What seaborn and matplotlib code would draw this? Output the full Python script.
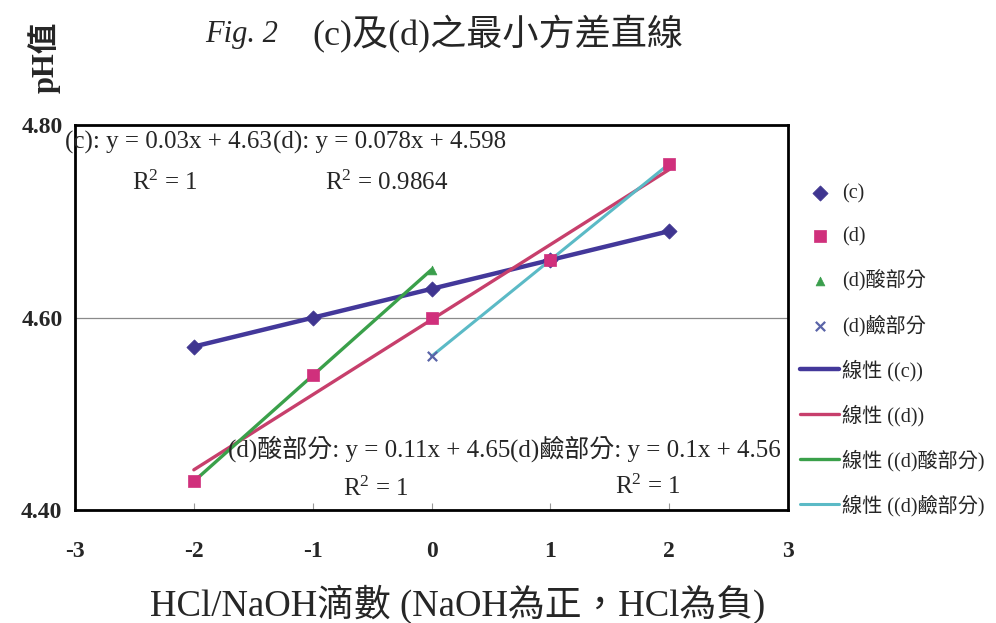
import numpy as np
import pandas as pd
import seaborn as sns
import matplotlib.pyplot as plt
from matplotlib.ticker import FormatStrFormatter

# data
x_c = [-2, -1, 0, 1, 2]
ph_c = [4.57, 4.60, 4.63, 4.66, 4.69]
x_d = [-2, -1, 0, 1, 2]
ph_d = [4.43, 4.54, 4.60, 4.66, 4.76]
x_acid = [-2, -1, 0]
ph_acid = [4.43, 4.54, 4.65]
x_base = [0, 1, 2]
ph_base = [4.56, 4.66, 4.76]

names = ['(c)', '(d)', '(d)酸部分', '(d)鹼部分']
xs = [x_c, x_d, x_acid, x_base]
ys = [ph_c, ph_d, ph_acid, ph_base]
marker_colors = ['#3f3590', '#d0307c', '#3a9e4c', '#5a64a8']
line_colors = ['#43389a', '#c73f6c', '#3aa04a', '#5bbac6']
markers = ['D', 's', '^', 'x']
sizes = [60, 80, 40, 45]
widths = [3.2, 2.4, 2.4, 2.2]
zorders = [4, 5, 4, 4]

eq_text = ['(c): y = 0.03x + 4.63', '(d): y = 0.078x + 4.598',
           '(d)酸部分: y = 0.11x + 4.65', '(d)鹼部分: y = 0.1x + 4.56']
r2_text = ['R$^2$ = 1', 'R$^2$ = 0.9864', 'R$^2$ = 1', 'R$^2$ = 1']

sns.set_style('white')
plt.rcParams['font.family'] = ['Liberation Serif', 'Noto Sans CJK TC']
plt.rcParams['axes.unicode_minus'] = False
plt.rcParams['mathtext.fontset'] = 'custom'
plt.rcParams['mathtext.rm'] = 'Liberation Serif'
plt.rcParams['mathtext.it'] = 'Liberation Serif:italic'

fig = plt.figure(figsize=(9.96, 6.23), dpi=100)
ax = fig.add_axes([0.0753, 0.181, 0.716, 0.618])

# data points
for i in range(4):
    sns.scatterplot(x=xs[i], y=ys[i], marker=markers[i], s=sizes[i],
                    color=marker_colors[i], edgecolor=marker_colors[i],
                    linewidth=1.6 if markers[i] == 'x' else 0.5,
                    label=names[i], ax=ax, zorder=zorders[i])

# linear trend lines
for i in range(4):
    sns.regplot(x=xs[i], y=ys[i], ci=None, scatter=False, color=line_colors[i],
                line_kws={'lw': widths[i], 'zorder': 3},
                label='線性 (' + names[i] + ')', ax=ax)

ax.set_xlim(-3, 3)
ax.set_ylim(4.4, 4.8)
ax.set_xticks(range(-3, 4))
ax.set_yticks([4.4, 4.6, 4.8])
ax.yaxis.set_major_formatter(FormatStrFormatter('%.2f'))
ax.tick_params(axis='x', direction='in', length=5, color='#999999', pad=22,
               labelsize=17, bottom=True)
ax.tick_params(axis='y', length=0, pad=9, labelsize=17)
plt.setp(ax.get_xticklabels(), fontweight='bold')
plt.setp(ax.get_yticklabels(), fontweight='bold')
ax.yaxis.grid(True, color='#8a8a8a', lw=0.9)
ax.xaxis.grid(False)
ax.set_xlabel('')
ax.set_ylabel('')
for s in ax.spines.values():
    s.set_visible(True)
    s.set_color('black')
    s.set_linewidth(2)

# trend line equations
ax.text(-3.084, 4.782, eq_text[0], fontsize=18, va='center', clip_on=False)
ax.text(-1.333, 4.782, eq_text[1], fontsize=18, va='center')
ax.text(-2.52, 4.740, r2_text[0], fontsize=18, va='center')
ax.text(-0.896, 4.740, r2_text[1], fontsize=18, va='center')
ax.text(-1.712, 4.464, eq_text[2], fontsize=18, va='center')
ax.text(0.662, 4.464, eq_text[3], fontsize=18, va='center')
ax.text(-0.744, 4.422, r2_text[2], fontsize=18, va='center')
ax.text(1.545, 4.424, r2_text[3], fontsize=18, va='center')

ax.legend(loc='upper left', bbox_to_anchor=(0.785, 0.733),
          bbox_transform=fig.transFigure, frameon=False, fontsize=14.5,
          labelspacing=1.16, handlelength=1.95, handletextpad=0.15)

fig.text(0.206, 0.945, 'Fig. 2', fontsize=22, style='italic', va='center')
fig.text(0.314, 0.945, '(c)及(d)之最小方差直線', fontsize=26, va='center')
fig.text(0.044, 0.908, 'pH值', fontsize=22, fontweight='bold', rotation=90,
         ha='center', va='center')
fig.text(0.459, 0.030, 'HCl/NaOH滴數 (NaOH為正，HCl為負)', fontsize=26.5,
         ha='center', va='center')

fig.savefig('out.png', dpi=100)
